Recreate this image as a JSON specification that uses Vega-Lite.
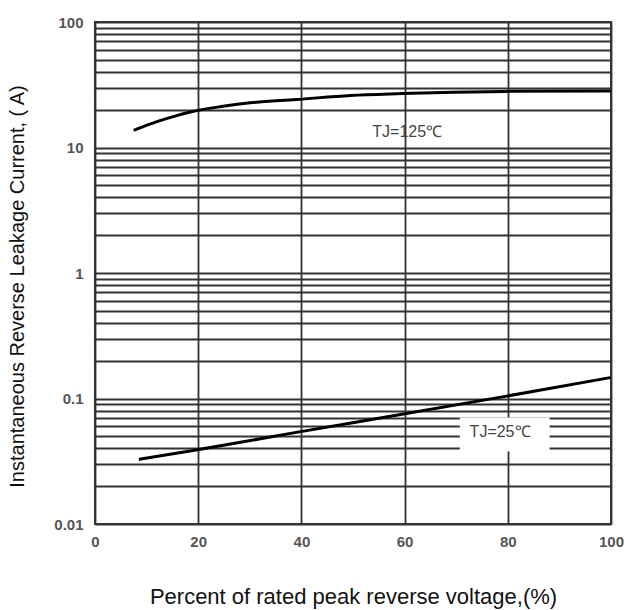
{
  "$schema": "https://vega.github.io/schema/vega-lite/v6.json",
  "width": 516,
  "height": 502,
  "autosize": {"type": "none"},
  "padding": {"left": 95, "top": 22, "right": 28, "bottom": 86},
  "background": "white",
  "config": {
    "view": {"stroke": "#333333", "strokeWidth": 2},
    "font": "Liberation Sans"
  },
  "layer": [
    {
      "data": {"values": [
        {"pct": 70.7, "pct2": 88.1, "current": 0.0706, "current2": 0.0378}
      ]},
      "mark": {"type": "rect", "fill": "white", "stroke": null},
      "encoding": {
        "x": {
          "field": "pct", "type": "quantitative",
          "scale": {"domain": [0, 100], "nice": false, "zero": false},
          "axis": {
            "title": "Percent of rated peak reverse voltage,(%)",
            "values": [0, 20, 40, 60, 80, 100],
            "format": "d",
            "grid": true, "gridColor": "#333333", "gridWidth": 1.8, "gridOpacity": 1,
            "ticks": false, "domain": false,
            "labelFont": "Liberation Sans", "labelFontSize": 15, "labelFontWeight": "bold", "labelColor": "#555555",
            "labelPadding": 10, "labelFlush": false, "labelOverlap": false,
            "titleFont": "Liberation Sans", "titleFontSize": 22, "titleFontWeight": "normal", "titleColor": "#111111",
            "titleX": 258, "titleY": 72, "titleAnchor": null, "titleAlign": "center", "titleBaseline": "middle"
          }
        },
        "x2": {"field": "pct2"},
        "y": {
          "field": "current", "type": "quantitative",
          "scale": {"type": "log", "domain": [0.01, 100], "nice": false},
          "axis": {
            "title": "Instantaneous Reverse Leakage Current, ( A)",
            "values": [0.01, 0.02, 0.03, 0.04, 0.05, 0.06, 0.07, 0.08, 0.09, 0.1, 0.2, 0.3, 0.4, 0.5, 0.6, 0.7, 0.8, 0.9, 1, 2, 3, 4, 5, 6, 7, 8, 9, 10, 20, 30, 40, 50, 60, 70, 80, 90, 100],
            "labelExpr": "indexof([0.01, 0.1, 1, 10, 100], datum.value) >= 0 ? format(datum.value, '~g') : ''",
            "grid": true, "gridColor": "#333333", "gridWidth": 1.8, "gridOpacity": 1,
            "ticks": false, "domain": false,
            "labelFont": "Liberation Sans", "labelFontSize": 15, "labelFontWeight": "bold", "labelColor": "#555555",
            "labelPadding": 12, "labelOverlap": false, "labelFlush": false, "labelBound": false,
            "titleFont": "Liberation Sans", "titleFontSize": 20, "titleFontWeight": "normal", "titleColor": "#111111",
            "titleAngle": -90, "titleX": -78, "titleY": 264, "titleAlign": "center", "titleBaseline": "middle", "titleAnchor": null
          }
        },
        "y2": {"field": "current2"}
      }
    },
    {
      "data": {"values": [
        {"series": "125", "pct": 7.5, "current": 13.7},
        {"series": "125", "pct": 10.5, "current": 15.3},
        {"series": "125", "pct": 14.5, "current": 17.3},
        {"series": "125", "pct": 18.5, "current": 19.2},
        {"series": "125", "pct": 24.5, "current": 21.2},
        {"series": "125", "pct": 30.5, "current": 22.8},
        {"series": "125", "pct": 39.0, "current": 24.1},
        {"series": "125", "pct": 49.5, "current": 26.0},
        {"series": "125", "pct": 59.5, "current": 26.9},
        {"series": "125", "pct": 69.5, "current": 27.6},
        {"series": "125", "pct": 79.5, "current": 28.0},
        {"series": "125", "pct": 100.0, "current": 28.2},
        {"series": "25", "pct": 8.5, "current": 0.0327},
        {"series": "25", "pct": 19.0, "current": 0.0385},
        {"series": "25", "pct": 39.0, "current": 0.0537},
        {"series": "25", "pct": 59.5, "current": 0.0748},
        {"series": "25", "pct": 79.5, "current": 0.104},
        {"series": "25", "pct": 100.0, "current": 0.147}
      ]},
      "mark": {"type": "line", "color": "black", "strokeWidth": 3, "interpolate": "monotone"},
      "encoding": {
        "x": {"field": "pct", "type": "quantitative"},
        "y": {"field": "current", "type": "quantitative"},
        "detail": {"field": "series"}
      }
    },
    {
      "data": {"values": [
        {"pct": 60.5, "current": 13.4, "label": "TJ=125℃"},
        {"pct": 78.5, "current": 0.0536, "label": "TJ=25℃"}
      ]},
      "mark": {"type": "text", "font": "Liberation Sans", "fontSize": 16, "color": "#444444", "align": "center", "baseline": "middle"},
      "encoding": {
        "x": {"field": "pct", "type": "quantitative"},
        "y": {"field": "current", "type": "quantitative"},
        "text": {"field": "label"}
      }
    }
  ]
}
